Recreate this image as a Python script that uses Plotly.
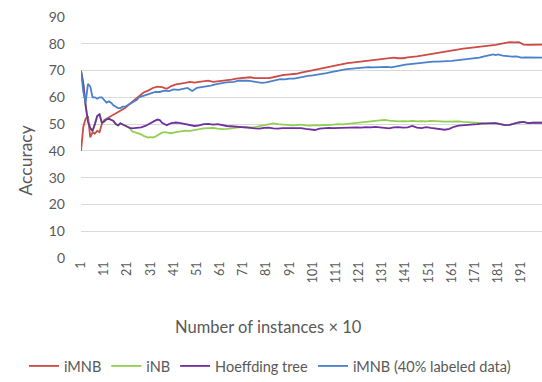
import plotly.graph_objects as go

# ---- data ----
imnb_x = [1,2,3,4,5,6,7,8,9,10,11,12,13,14,16,18,20,22,24,26,28,30,32,34,36,38,40,42,44,46,48,50,52,54,56,58,60,62,64,66,68,70,72,74,76,78,80,82,84,86,88,90,92,94,96,98,100,102,104,106,108,110,112,114,116,118,120,122,124,126,128,130,132,134,136,138,140,142,144,146,148,150,152,154,156,158,160,162,164,166,168,170,172,174,176,178,180,182,184,186,188,190,191,192,194,196,198,200]
imnb_y = [40,49,52,53,45,47,46.5,47.5,47,50,51.5,52,52.5,53,54,55,56,57.5,59,60.5,61.8,62.5,63.5,64,63.8,63.2,64.2,64.8,65,65.4,65.8,65.5,65.8,66,66.2,65.8,66,66.3,66.3,66.6,67,67.2,67.5,67.5,67.2,67.2,67.3,67.2,67.5,68,68.3,68.5,68.6,68.8,69.2,69.5,70,70.3,70.6,71,71.4,71.8,72.2,72.5,72.8,73,73.2,73.5,73.7,73.9,74.1,74.4,74.5,74.6,74.8,74.6,74.6,74.9,75,75.3,75.6,75.9,76.2,76.6,76.9,77.1,77.3,77.6,77.9,78.2,78.4,78.6,78.8,79,79.1,79.4,79.6,80,80.4,80.6,80.5,80.6,80.2,79.7,79.6,79.7,79.6,79.7]

hoef_x = [1,2,3,4,5,6,7,8,9,10,11,12,13,14,15,16,17,18,19,20,21,22,23,24,25,27,29,31,33,34,35,36,37,38,40,42,44,46,48,50,52,54,56,58,60,62,64,66,68,70,72,74,76,78,80,82,84,86,88,90,92,94,96,98,100,102,104,106,108,110,112,114,116,118,120,122,124,126,128,130,132,134,136,138,140,142,144,146,148,150,152,154,156,158,160,162,164,166,168,170,172,174,176,178,180,182,184,186,188,190,192,194,196,198,200]
hoef_y = [70,65,57,51,48.5,47.5,50,53,53.7,50.5,51,51.8,52,51.5,51.2,50,49.5,50.3,49.8,49.2,49,48.6,48.4,48.5,48.6,48.8,49.4,50.5,51.3,51.7,51.5,50.5,50,49.6,50.4,50.6,50.4,50,49.6,49.3,49.5,50,50.1,49.8,50,49.6,49.3,49.2,49.1,49,48.9,48.6,48.4,48.3,48.6,48.7,48.4,48.3,48.5,48.5,48.4,48.3,48.5,48.2,47.9,47.8,48.3,48.5,48.6,48.5,48.6,48.7,48.6,48.7,48.8,48.7,48.9,48.8,49,48.8,48.7,48.4,48.8,48.9,48.7,48.8,49.3,48.7,48.5,48.9,48.6,48.3,48.2,47.9,48.2,49,49.4,49.5,49.6,49.8,50,50.2,50.3,50.5,50.4,50,49.6,49.7,50.2,50.6,50.8,50.4,50.5,50.4,50.5]

inb_x = [1,2,3,4,5,6,7,8,9,10,11,12,13,14,15,16,17,18,19,20,21,22,23,24,25,26,27,28,29,30,31,32,33,34,35,36,37,38,40,42,44,46,48,50,52,54,56,58,60,62,64,66,68,70,72,74,76,78,80,82,84,86,88,90,92,94,96,98,100,102,104,106,108,110,112,114,116,118,120,122,124,126,128,130,132,134,136,138,140,142,144,146,148,150,152,154,156,158,160,162,164,166,168,170,172,174,176,178,180,182,184,186,188,190,192,194,196,198,200]
inb_y = [70,65,57,51,48.5,47.5,50,53,53.7,50.5,51,51.8,52,51.5,51.2,50,49.5,50.3,49.8,49.2,49,48.6,47.3,47,46.8,46.5,46.2,45.6,45.2,45,45.1,45,45.3,45.9,46.4,46.8,47,46.9,46.6,47,47.3,47.6,47.5,47.8,48.2,48.4,48.5,48.6,48.3,48.1,48.2,48.5,48.8,48.9,49,48.8,48.9,49.3,49.7,50.1,50.3,50,49.8,49.6,49.5,49.6,49.8,49.5,49.4,49.6,49.5,49.7,49.6,49.8,50,49.9,50.1,50.3,50.5,50.7,50.9,51.1,51.3,51.6,51.6,51.3,51.1,51,51.1,51,51.2,51,51.1,51,51.2,51,51,50.9,51,50.9,51,50.8,50.7,50.6,50.5,50.3,50.3,50.4,50.4,50,49.6,49.7,50.2,50.6,50.8,50.4,50.5,50.4,50.5]

imnb40_x = [1,2,3,4,5,6,7,8,9,10,11,12,13,14,15,16,17,18,19,20,21,23,25,26,28,29,31,33,35,37,39,41,43,45,47,49,51,53,55,57,59,61,63,65,67,69,71,73,75,77,79,81,83,85,87,89,91,93,95,97,99,101,103,105,107,109,111,113,115,117,119,121,123,125,127,129,131,133,135,137,139,141,143,145,147,149,151,153,155,157,159,161,163,165,167,169,171,173,175,177,179,180,181,183,185,187,189,191,193,195,197,199,200]
imnb40_y = [70,62,58,65,64,60,60,59.5,60,60,59,58,58.5,58,57,56.5,56,56,56.5,56.5,57,58,59,60,60.5,61,61.5,62,62,62.5,62.3,63,62.8,63.2,63.5,62.4,63.5,63.8,64,64.4,64.8,65.2,65.5,65.7,65.8,66.2,66.3,66.2,66,65.8,65.4,65.6,66,66.4,66.8,66.7,67,67,67.4,67.8,68,68.2,68.4,68.6,69,69.4,69.8,70.2,70.4,70.6,70.8,71,71.1,71.3,71.2,71.3,71.2,71.4,71.2,71.6,71.9,72.2,72.4,72.6,72.8,73,73.1,73.3,73.3,73.5,73.5,73.6,73.8,73.9,74,74.3,74.5,74.8,75.3,75.7,76,75.8,76,75.6,75.4,75.2,75.3,74.8,74.9,74.8,74.8,74.7,74.8]

series_names = ["iMNB", "iNB", "Hoeffding tree", "iMNB (40% labeled data)"]
series_colors = ["#CD4A45", "#92D050", "#7030A0", "#4A80CC"]

y_ticks = [0, 10, 20, 30, 40, 50, 60, 70, 80, 90]
x_ticks = list(range(1, 200, 10))
x_title = "Number of instances × 10"
y_title = "Accuracy"

FONT = "Lato, 'Open Sans', sans-serif"
TXT = "#595959"

fig = go.Figure()
for xs, ys, name, col in [
    (imnb_x, imnb_y, series_names[0], series_colors[0]),
    (inb_x, inb_y, series_names[1], series_colors[1]),
    (hoef_x, hoef_y, series_names[2], series_colors[2]),
    (imnb40_x, imnb40_y, series_names[3], series_colors[3]),
]:
    fig.add_trace(go.Scatter(x=xs, y=ys, mode="lines", name=name,
                             line=dict(color=col, width=1.8)))

fig.update_layout(
    width=542, height=382,
    margin=dict(l=81, r=0, t=17, b=124, autoexpand=False),
    paper_bgcolor="white", plot_bgcolor="white",
    font=dict(family=FONT, color=TXT, size=13),
    showlegend=True,
    legend=dict(orientation="h", x=(24-81)/461, xanchor="left", xref="paper",
                y=-(366-258)/241, yanchor="middle", yref="paper",
                font=dict(size=14.5, color=TXT, family=FONT),
                itemwidth=30, tracegroupgap=0, traceorder="normal",
                bgcolor="rgba(0,0,0,0)"),
    xaxis=dict(range=[1, 200], tickmode="array", tickvals=x_ticks,
               ticktext=[str(v) for v in x_ticks], tickangle=-90,
               showgrid=False, zeroline=False, showline=False,
               ticks="", automargin=False,
               tickfont=dict(size=12.5, color=TXT, family=FONT)),
    yaxis=dict(range=[0, 90], tickmode="array", tickvals=y_ticks,
               showgrid=True, gridcolor="#D9D9D9", gridwidth=1,
               zeroline=False, showline=False, ticks="",
               ticklabelstandoff=15, automargin=False,
               tickfont=dict(size=14, color=TXT, family=FONT)),
    annotations=[
        dict(text=x_title, xref="paper", yref="paper", x=(268-81)/461,
             y=-(327-258)/241, showarrow=False, xanchor="center", yanchor="middle",
             font=dict(size=16.5, color=TXT, family=FONT)),
        dict(text=y_title, xref="paper", yref="paper", x=-(81-25)/461,
             y=(258-160.5)/241, showarrow=False, textangle=-90,
             xanchor="center", yanchor="middle",
             font=dict(size=17.5, color=TXT, family=FONT)),
    ],
)

fig.write_html("out.html", config={"displayModeBar": False},
               post_script="document.body.style.margin='0';")
